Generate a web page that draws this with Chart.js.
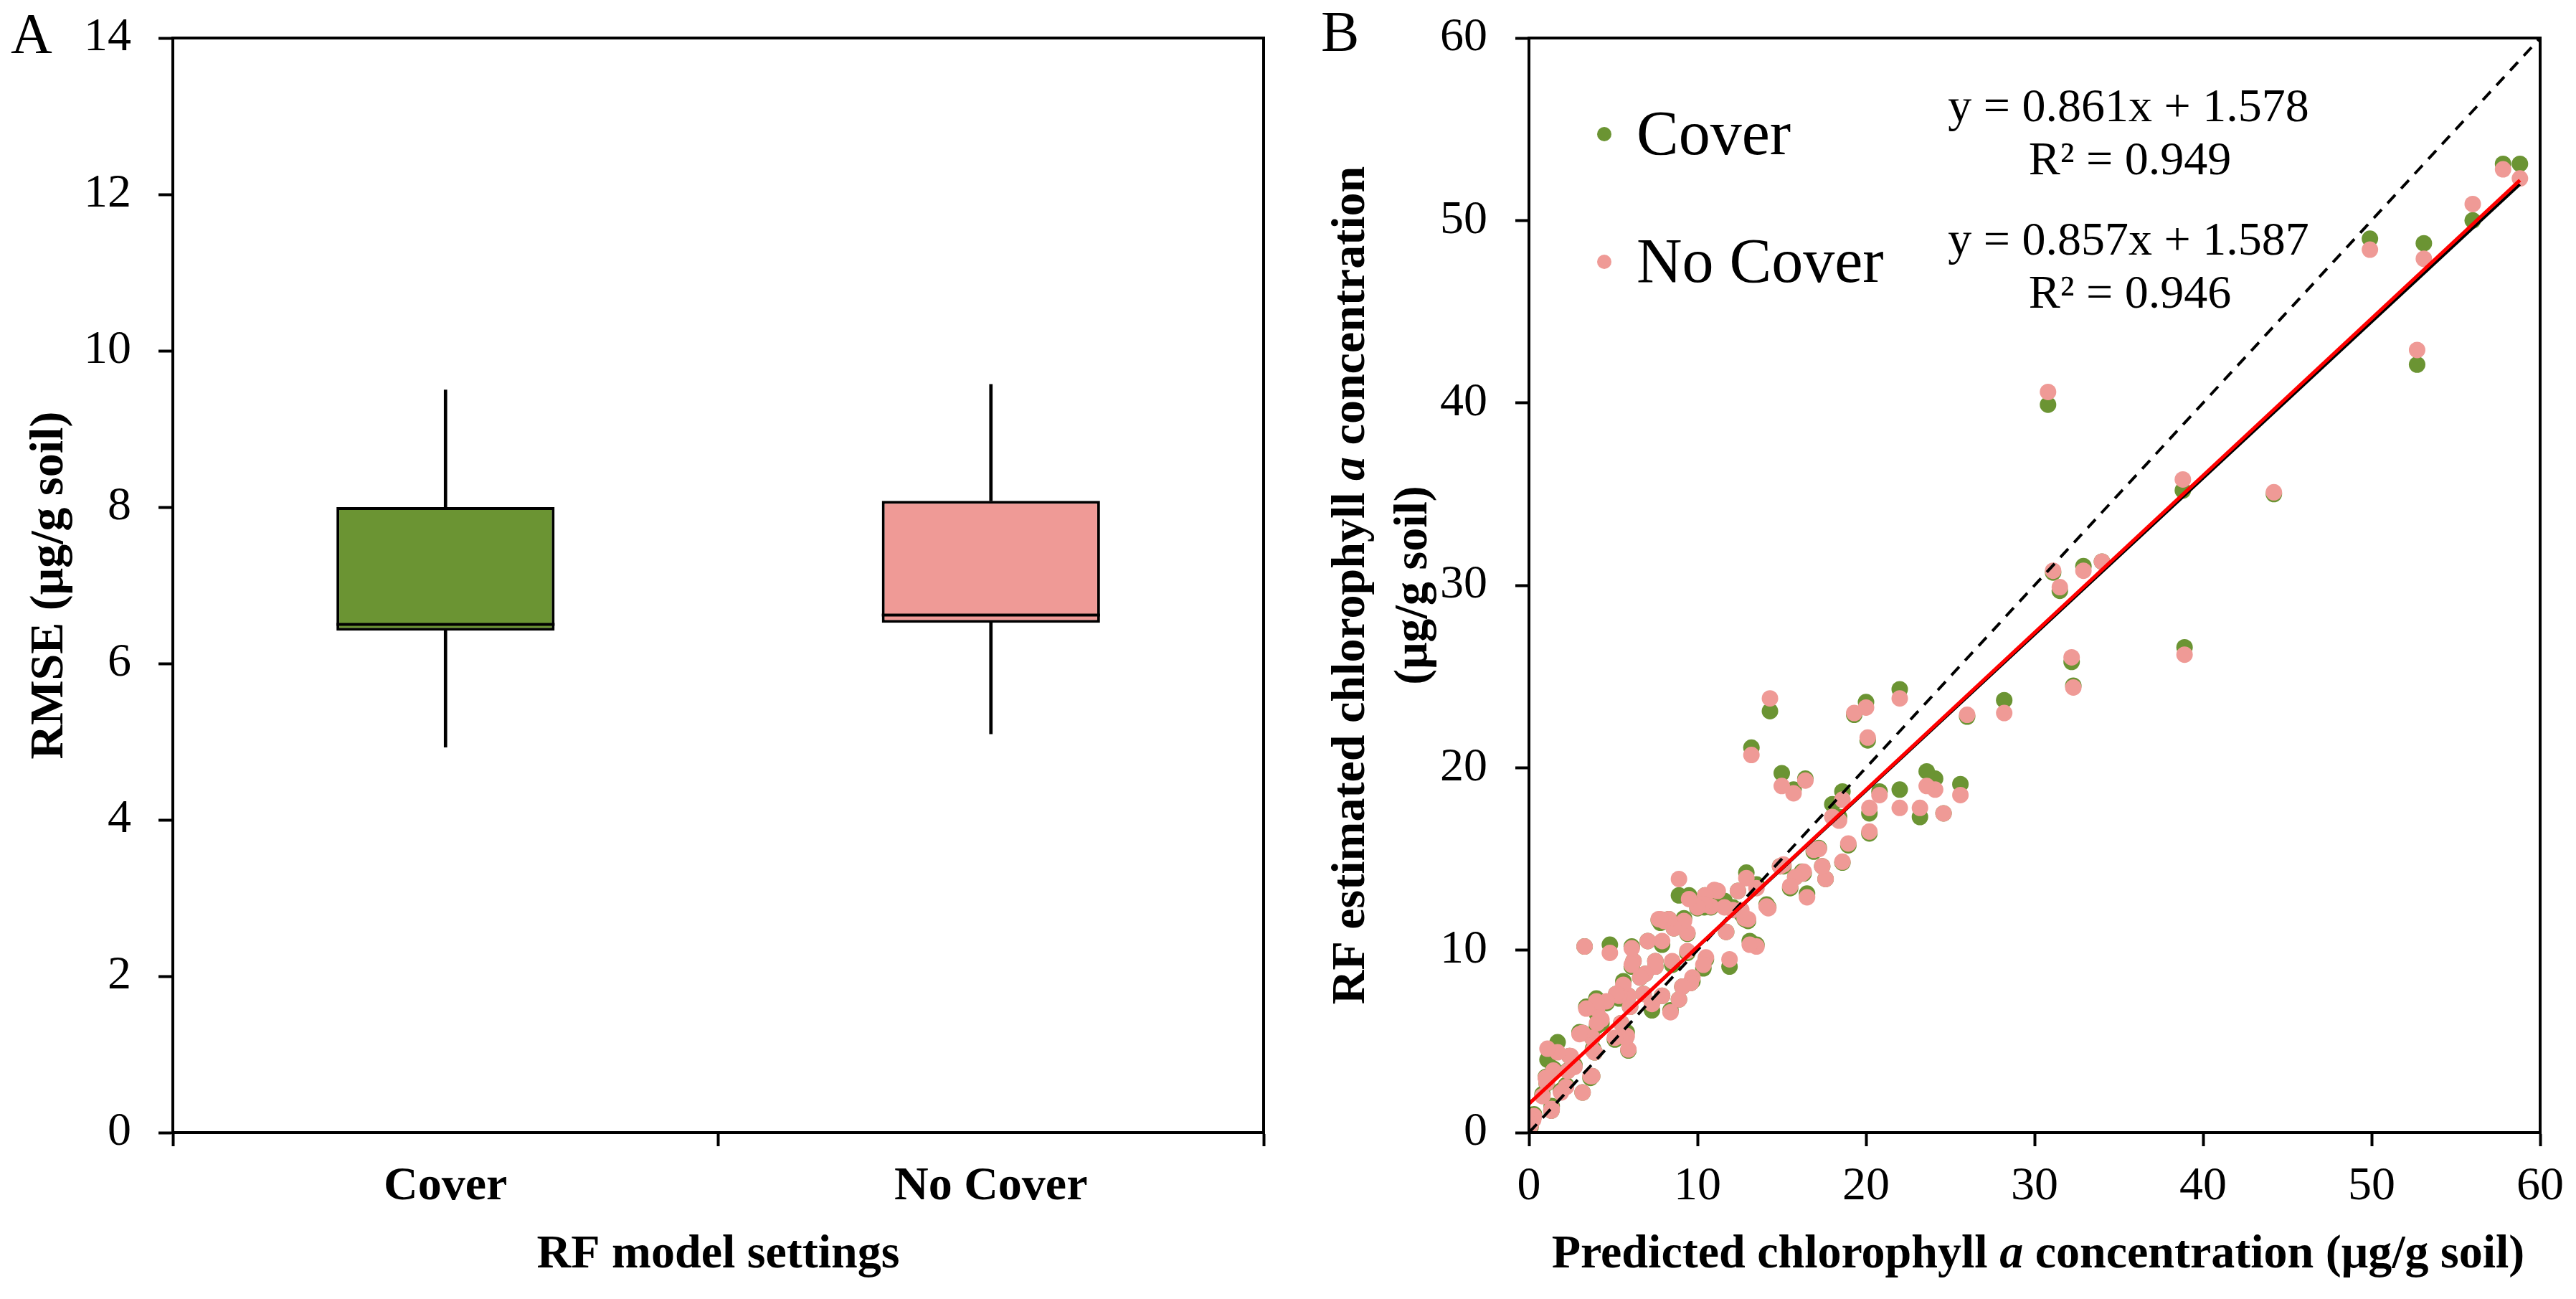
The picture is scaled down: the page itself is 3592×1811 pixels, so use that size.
<!DOCTYPE html>
<html>
<head>
<meta charset="utf-8">
<script src="https://cdn.jsdelivr.net/npm/chart.js@4.4.1/dist/chart.umd.min.js"></script>
<style>
html, body { margin: 0; padding: 0; background: #fff; }
#wrap { position: relative; width: 3592px; height: 1811px; }
canvas { position: absolute; top: 0; }
#boxChart { left: 0; }
#scatterChart { left: 1800px; }
</style>
</head>
<body>
<div id="wrap">
  <canvas id="boxChart" width="1800" height="1811"></canvas>
  <canvas id="scatterChart" width="1792" height="1811"></canvas>
</div>
<script>
// ---- panel A: RMSE of the RF model ----
var settings = ['Cover', 'No Cover'];
var rmseMin = [4.93, 5.10];
var rmseQ1 = [6.42, 6.52];
var rmseMedian = [6.50, 6.62];
var rmseQ3 = [8.00, 8.08];
var rmseMax = [9.50, 9.57];

// ---- panel B: predicted vs RF estimated chlorophyll a ----
var predicted = [58.8,57.8,56.0,53.1,52.7,49.9,44.2,38.9,38.8,34.0,
  32.9,32.2,32.3,31.5,31.1,30.8,28.2,26.0,25.6,24.6,
  24.1,23.6,23.2,22.0,22.0,20.8,20.0,20.1,20.2,20.2,
  19.3,18.6,18.95,18.6,18.4,18.0,17.6,17.4,17.2,16.9,
  16.4,16.5,16.3,16.2,15.8,15.7,15.0,15.1,15.5,14.9,
  14.3,14.2,14.1,13.5,13.2,13.0,12.9,13.5,13.1,12.8,
  12.6,12.4,12.1,11.9,11.7,11.6,11.2,11.0,10.8,10.5,
  10.45,10.4,10.35,10.3,10.0,9.7,9.6,9.5,9.4,9.4,
  9.2,9.1,8.9,8.9,8.6,8.5,8.4,8.3,8.0,7.9,
  7.9,7.8,7.7,7.5,7.5,7.3,7.05,6.9,6.8,6.6,
  6.2,6.1,6.1,6.0,5.9,5.9,5.8,5.75,5.6,5.47,
  5.35,5.18,5.1,4.8,4.6,4.3,4.04,4.04,4.0,3.9,
  3.8,3.75,3.75,3.65,3.4,3.3,3.18,3.18,3.0,2.7,
  2.47,2.4,2.3,2.2,1.9,1.7,1.45,1.35,1.33,1.1,
  1.05,1.0,0.8,0.3,0.25,0.1,0.05,0.0];
var estCover = [53.1,53.1,50.0,48.75,42.1,49.0,35.0,26.6,35.2,31.3,
  31.05,25.8,24.5,29.7,30.7,39.9,23.7,22.8,19.1,17.5,
  19.4,19.8,17.3,24.3,18.8,18.7,23.6,21.5,17.5,16.4,
  22.9,18.7,15.75,14.8,17.3,18.0,13.9,14.6,15.6,15.4,
  19.4,13.1,14.2,14.3,14.0,18.8,19.7,14.6,13.4,14.6,
  23.1,12.35,12.5,13.6,21.1,11.6,14.25,10.3,10.5,11.7,
  12.0,13.25,12.35,9.1,11.0,12.7,12.9,13.1,12.35,9.5,
  13.0,12.35,9.0,12.5,12.3,8.3,8.2,13.0,9.85,10.9,
  11.75,8.0,13.0,7.3,11.2,9.2,6.7,11.7,11.65,10.3,
  7.5,11.5,11.65,9.4,9.1,6.7,10.5,8.7,7.6,8.5,
  9.4,10.2,9.1,6.9,7.5,4.5,5.5,5.2,8.3,6.0,
  7.35,7.6,5.1,10.3,7.1,6.0,5.85,6.5,7.35,4.4,
  4.6,5.2,3.1,3.0,6.9,10.2,5.47,2.2,5.5,3.7,
  4.17,4.2,3.4,2.6,2.3,4.95,3.5,1.45,1.2,4.0,
  2.7,3.05,2.1,1.0,0.8,0.3,0.6,0.1];
var estNoCover = [52.3,52.8,50.9,47.9,42.9,48.4,35.1,26.2,35.8,31.3,
  30.8,26.05,24.4,29.9,30.8,40.6,23.0,22.9,18.5,17.5,
  18.8,19.0,17.8,23.8,17.8,18.5,23.3,21.65,17.8,16.5,
  23.0,18.25,15.85,14.85,17.1,17.3,13.9,14.6,15.55,15.5,
  19.3,12.9,14.3,14.2,14.0,18.6,19.0,14.7,13.5,14.6,
  23.8,12.3,12.4,13.4,20.7,11.7,13.95,10.2,10.3,11.75,
  12.2,13.25,12.2,9.5,11.0,12.35,13.25,13.3,12.4,9.6,
  13.0,12.5,9.2,12.5,12.35,8.5,8.2,12.8,9.95,10.95,
  11.6,8.0,13.9,7.3,11.2,9.4,6.6,11.7,11.6,10.5,
  7.5,11.7,11.7,9.4,9.1,7.05,10.5,8.7,7.6,8.5,
  9.4,10.1,9.2,6.9,7.5,4.56,5.3,5.2,8.1,6.0,
  7.5,7.6,5.2,9.85,7.2,6.2,6.0,6.77,7.2,4.4,
  4.5,5.2,3.1,3.1,6.8,10.2,5.47,2.2,5.4,3.6,
  4.2,4.2,3.38,2.5,2.2,4.4,3.4,1.3,1.2,4.6,
  2.73,3.0,2.0,0.9,0.7,0.4,0.5,0.2];
var fitSlope = [0.861, 0.857];
var fitIntercept = [1.578, 1.587];
var fitR2 = [0.949, 0.946];
var axisMax = 60;

var serif = '"Liberation Serif", "Times New Roman", serif';
var green = '#6B9433';
var pink = '#EF9A96';

// text helper, lets one word be italic (the "a" of chlorophyll a)
function drawRich(ctx, parts, cx, cy, rotate, size, weight) {
  ctx.save();
  ctx.translate(cx, cy);
  if (rotate) ctx.rotate(-Math.PI / 2);
  ctx.textBaseline = 'middle';
  ctx.textAlign = 'left';
  ctx.fillStyle = '#000';
  var total = 0;
  parts.forEach(function (p) {
    ctx.font = (p.italic ? 'italic ' : '') + weight + ' ' + size + 'px ' + serif;
    p.w = ctx.measureText(p.text).width;
    total += p.w;
  });
  var x = -total / 2;
  parts.forEach(function (p) {
    ctx.font = (p.italic ? 'italic ' : '') + weight + ' ' + size + 'px ' + serif;
    ctx.fillText(p.text, x, 0);
    x += p.w;
  });
  ctx.restore();
}

var framePlugin = {
  id: 'frame',
  afterDraw: function (chart) {
    var a = chart.chartArea, ctx = chart.ctx;
    ctx.save();
    ctx.strokeStyle = '#000';
    ctx.lineWidth = 4;
    ctx.strokeRect(a.left, a.top, a.right - a.left, a.bottom - a.top);
    ctx.restore();
  }
};

var medianPlugin = {
  id: 'median',
  afterDatasetsDraw: function (chart) {
    var ctx = chart.ctx;
    var meta = chart.getDatasetMeta(0);
    ctx.save();
    ctx.strokeStyle = '#000';
    ctx.lineWidth = 4;
    meta.data.forEach(function (bar, i) {
      var p = bar.getProps(['x', 'width'], true);
      var y = chart.scales.y.getPixelForValue(rmseMedian[i]);
      ctx.beginPath();
      ctx.moveTo(p.x - p.width / 2, y);
      ctx.lineTo(p.x + p.width / 2, y);
      ctx.stroke();
    });
    ctx.restore();
  }
};

var boxText = {
  id: 'boxText',
  afterDraw: function (chart) {
    var ctx = chart.ctx, a = chart.chartArea;
    drawRich(ctx, [{ text: 'RMSE (μg/g soil)' }], 70, (a.top + a.bottom) / 2, true, 66, 'bold');
    drawRich(ctx, [{ text: 'RF model settings' }], (a.left + a.right) / 2, 1750, false, 66, 'bold');
    ctx.save();
    ctx.fillStyle = '#000';
    ctx.font = '80px ' + serif;
    ctx.textBaseline = 'alphabetic';
    ctx.fillText('A', 15, 74);
    ctx.restore();
  }
};

var scatterText = {
  id: 'scatterText',
  afterDraw: function (chart) {
    var ctx = chart.ctx, a = chart.chartArea;
    var midY = (a.top + a.bottom) / 2;
    drawRich(ctx, [{ text: 'RF estimated chlorophyll ' }, { text: 'a', italic: true }, { text: ' concentration' }], 85, midY, true, 66, 'bold');
    drawRich(ctx, [{ text: '(μg/g soil)' }], 172, midY, true, 66, 'bold');
    drawRich(ctx, [{ text: 'Predicted chlorophyll ' }, { text: 'a', italic: true }, { text: ' concentration (μg/g soil)' }], (a.left + a.right) / 2 + 5, 1750, false, 66, 'bold');

    ctx.save();
    ctx.fillStyle = '#000';
    ctx.font = '80px ' + serif;
    ctx.textBaseline = 'alphabetic';
    ctx.fillText('B', 42, 71);

    // legend
    var names = ['Cover', 'No Cover'];
    var colors = [green, pink];
    names.forEach(function (n, i) {
      var yDot = 187 + i * 178;
      ctx.fillStyle = colors[i];
      ctx.beginPath();
      ctx.arc(437, yDot, 10, 0, Math.PI * 2);
      ctx.fill();
      ctx.fillStyle = '#000';
      ctx.font = '88px ' + serif;
      ctx.textAlign = 'left';
      ctx.fillText(n, 482, yDot + 28);
    });

    // trendline equations
    ctx.font = '66px ' + serif;
    ctx.textAlign = 'center';
    for (var i = 0; i < fitSlope.length; i++) {
      var base = 169 + i * 186;
      ctx.fillText('y = ' + fitSlope[i].toFixed(3) + 'x + ' + fitIntercept[i].toFixed(3), 1168, base);
      ctx.fillText('R² = ' + fitR2[i].toFixed(3), 1170, base + 74);
    }
    ctx.restore();
  }
};

// fixed axis box sizes so the plot areas sit where the figure has them
function fixY(width) {
  return function (s) { s.width = width; s.paddingTop = 0; s.paddingBottom = 0; };
}

// ---------- chart A ----------
new Chart(document.getElementById('boxChart'), {
  type: 'bar',
  data: {
    labels: settings,
    datasets: [{
      label: 'box',
      data: settings.map(function (s, i) { return [rmseQ1[i], rmseQ3[i]]; }),
      backgroundColor: [green, pink],
      borderColor: '#000',
      borderWidth: 4,
      borderSkipped: false,
      barPercentage: 0.4,
      categoryPercentage: 1,
      grouped: false,
      order: 0
    }, {
      label: 'lower whisker',
      data: settings.map(function (s, i) { return [rmseMin[i], rmseQ1[i]]; }),
      backgroundColor: '#000',
      barThickness: 4,
      grouped: false,
      order: 1
    }, {
      label: 'upper whisker',
      data: settings.map(function (s, i) { return [rmseQ3[i], rmseMax[i]]; }),
      backgroundColor: '#000',
      barThickness: 4,
      grouped: false,
      order: 1
    }]
  },
  options: {
    responsive: false,
    animation: false,
    devicePixelRatio: 1,
    layout: { padding: { top: 53, right: 38, left: 0, bottom: 0 } },
    plugins: { legend: { display: false }, tooltip: { enabled: false } },
    scales: {
      x: {
        grid: { drawOnChartArea: false, tickLength: 19, tickWidth: 4, tickColor: '#000' },
        border: { color: '#000', width: 4 },
        ticks: { color: '#000', padding: 17, font: { family: serif, size: 66, weight: 'bold' } },
        afterFit: function (s) { s.height = 232; }
      },
      y: {
        min: 0,
        max: 14,
        grid: { drawOnChartArea: false, tickLength: 20, tickWidth: 4, tickColor: '#000' },
        border: { color: '#000', width: 4 },
        ticks: { stepSize: 2, color: '#000', padding: 38, font: { family: serif, size: 66 } },
        afterFit: fixY(241)
      }
    }
  },
  plugins: [framePlugin, medianPlugin, boxText]
});

// ---------- chart B ----------
function points(est) {
  return predicted.map(function (x, i) { return { x: x, y: est[i] }; });
}
function fitLine(i) {
  var lo = Math.min.apply(null, predicted), hi = Math.max.apply(null, predicted);
  return [{ x: lo, y: fitIntercept[i] + fitSlope[i] * lo }, { x: hi, y: fitIntercept[i] + fitSlope[i] * hi }];
}

new Chart(document.getElementById('scatterChart'), {
  type: 'scatter',
  data: {
    datasets: [{
      label: 'Cover fit',
      type: 'line',
      data: fitLine(0),
      borderColor: '#FF0000',
      borderWidth: 5,
      pointRadius: 0,
      order: 0
    }, {
      label: 'No Cover fit',
      type: 'line',
      data: fitLine(1),
      borderColor: '#000',
      borderWidth: 4,
      pointRadius: 0,
      order: 1
    }, {
      label: '1:1',
      type: 'line',
      data: [{ x: 0, y: 0 }, { x: axisMax, y: axisMax }],
      borderColor: '#000',
      borderWidth: 4,
      borderDash: [16, 12],
      pointRadius: 0,
      order: 2
    }, {
      label: 'No Cover',
      data: points(estNoCover),
      backgroundColor: pink,
      pointRadius: 11.5,
      borderWidth: 0,
      order: 3
    }, {
      label: 'Cover',
      data: points(estCover),
      backgroundColor: green,
      pointRadius: 11.5,
      borderWidth: 0,
      order: 4
    }]
  },
  options: {
    responsive: false,
    animation: false,
    devicePixelRatio: 1,
    layout: { padding: { top: 53, right: 50, left: 0, bottom: 0 } },
    plugins: { legend: { display: false }, tooltip: { enabled: false } },
    scales: {
      x: {
        type: 'linear',
        min: 0,
        max: axisMax,
        grid: { drawOnChartArea: false, tickLength: 19, tickWidth: 4, tickColor: '#000' },
        border: { color: '#000', width: 4 },
        ticks: { stepSize: 10, color: '#000', padding: 17, font: { family: serif, size: 66 } },
        afterFit: function (s) { s.height = 232; }
      },
      y: {
        min: 0,
        max: axisMax,
        grid: { drawOnChartArea: false, tickLength: 19, tickWidth: 4, tickColor: '#000' },
        border: { color: '#000', width: 4 },
        ticks: { stepSize: 10, color: '#000', padding: 39, font: { family: serif, size: 66 } },
        afterFit: fixY(332)
      }
    }
  },
  plugins: [framePlugin, scatterText]
});
</script>
</body>
</html>
